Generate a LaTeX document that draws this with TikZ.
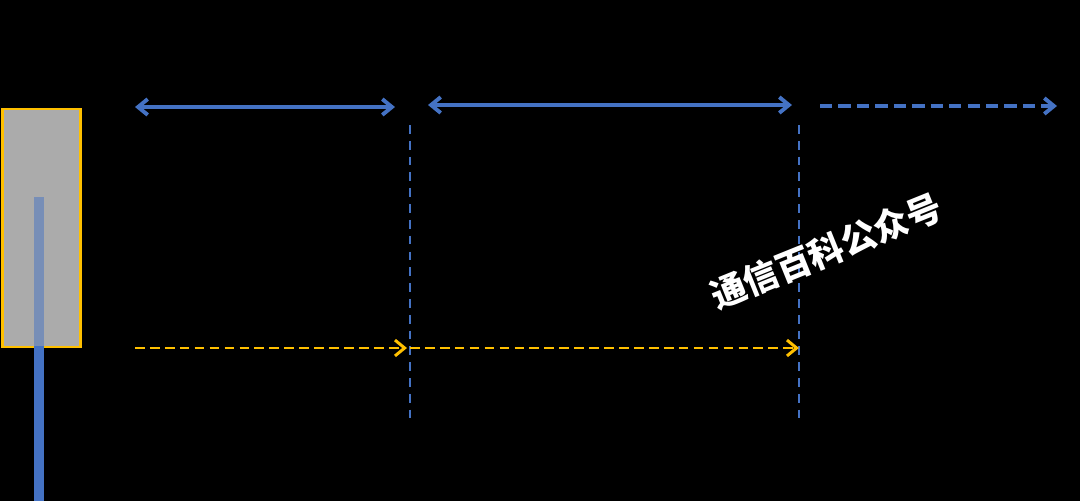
\documentclass[tikz,border=0pt]{standalone}
\usepackage{fontspec}
\newfontfamily\cjk{Noto Sans CJK SC}
\usetikzlibrary{arrows.meta}
\definecolor{linkblue}{HTML}{4472C4}
\definecolor{signorange}{HTML}{FFC000}
\definecolor{antgray}{HTML}{ABABAB}

\begin{document}
\begin{tikzpicture}[x=0.02cm,y=-0.02cm]
    \tikzset{tip/.style={-{Straight Barb[length=5.5pt,width=9pt]}},
      span/.style={draw=linkblue,line width=2.2pt,{Straight Barb[length=5.5pt,width=9pt]}-{Straight Barb[length=5.5pt,width=9pt]}},
      spanon/.style={draw=linkblue,line width=2.2pt,dash pattern=on 7pt off 3.5pt,tip},
      cut/.style={draw=linkblue,line width=1.6pt,dash pattern=on 5pt off 4pt},
      sig/.style={draw=signorange,line width=1.7pt,dash pattern=on 5.5pt off 3pt,tip}};
    \useasboundingbox (0,0) rectangle (1080,501);
    \fill[black] (0,0) rectangle (1080,501);

    % antenna
    \node (ant) [draw=signorange,line width=1.3pt,fill=antgray,inner sep=0pt,anchor=north west,
      minimum width=1.56cm,minimum height=4.76cm] at (1.5,108) {};
    \coordinate (feedtop) at (39,197); \coordinate (feedmid) at (39,346); \coordinate (feedbot) at (39,501);
    \draw[linkblue,line width=5.5pt,opacity=0.5] (feedtop) -- (feedmid);
    \draw[linkblue,line width=5.5pt] (feedmid) -- (feedbot);

    % spans
    \coordinate (a1) at (135,107); \coordinate (a2) at (395,107);
    \coordinate (b1) at (428,105); \coordinate (b2) at (792,105);
    \coordinate (c1) at (820,106); \coordinate (c2) at (1057,106);
    \coordinate (d1) at (410,125); \coordinate (d2) at (410,425);
    \coordinate (e1) at (799,125); \coordinate (e2) at (799,425);
    \coordinate (s0) at (135,348); \coordinate (s1) at (407,348);
    \coordinate (s2) at (410,348); \coordinate (s3) at (799,348);

    \draw[cut] (d1) -- (d2); \draw[cut] (e1) -- (e2);
    \draw[span] (a1) -- (a2); \draw[span] (b1) -- (b2);
    \draw[spanon] (c1) -- (c2);
    \draw[sig] (s0) -- (s1); \draw[sig] (s2) -- (s3);

    \node (mark) [white,rotate=22,font=\cjk\bfseries\fontsize{20}{20}\selectfont] at (826,251) {通信百科公众号};
  \end{tikzpicture}
\end{document}
